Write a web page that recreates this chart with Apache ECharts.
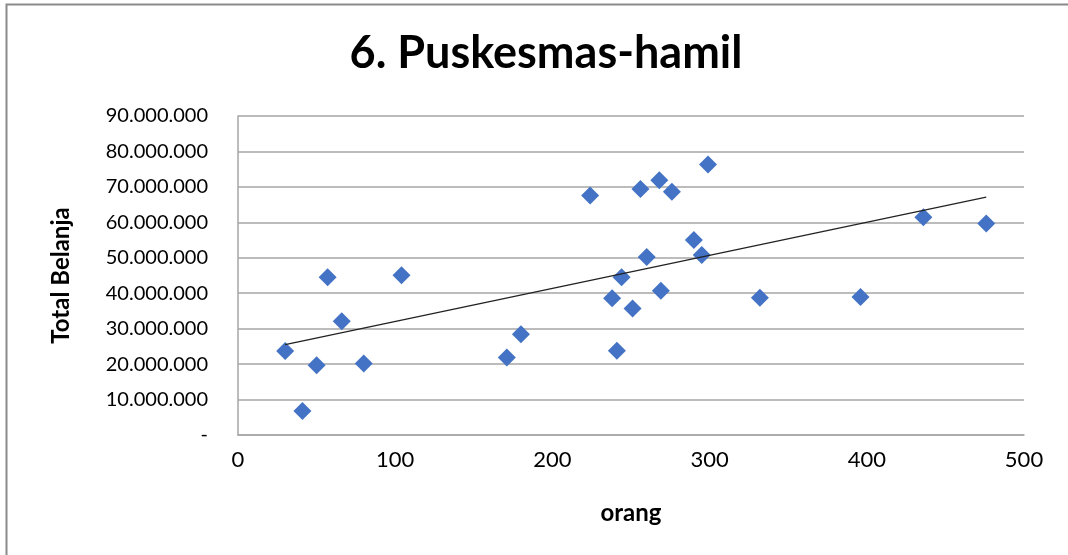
<!DOCTYPE html>
<html><head><meta charset="utf-8">
<script src="https://cdn.jsdelivr.net/npm/echarts@6/dist/echarts.min.js"></script>
<style>html,body{margin:0;padding:0;background:#fff}#c{width:1068px;height:555px}</style>
</head><body><div id="c"></div>
<script>
const titleText = '6. Puskesmas-hamil';
const xName = 'orang';
const yName = 'Total Belanja';
const orang = [30, 41, 50, 57, 66, 80, 104, 171, 180, 224, 238, 241, 244, 251, 256, 260, 268, 269, 276, 290, 295, 299, 332, 396, 436, 476];
const belanja = [23700000, 6800000, 19700000, 44500000, 32100000, 20200000, 45100000, 21900000, 28400000, 67600000, 38600000, 23800000, 44500000, 35700000, 69400000, 50200000, 71900000, 40700000, 68600000, 55000000, 50800000, 76300000, 38700000, 38900000, 61400000, 59700000];

const pts = orang.map((x, i) => [x, belanja[i]]);
// least squares trendline
const n = orang.length;
const mx = orang.reduce((a, b) => a + b, 0) / n;
const my = belanja.reduce((a, b) => a + b, 0) / n;
let sxy = 0, sxx = 0;
for (let i = 0; i < n; i++) { sxy += (orang[i] - mx) * (belanja[i] - my); sxx += (orang[i] - mx) ** 2; }
const slope = sxy / sxx, icpt = my - slope * mx;
const xmin = Math.min(...orang), xmax = Math.max(...orang);
const trend = [[xmin, icpt + slope * xmin], [xmax, icpt + slope * xmax]];

function fmt(v) {
  if (v === 0) return '-';
  return String(Math.round(v)).replace(/\B(?=(\d{3})+(?!\d))/g, '.');
}
const font = 'Lato, "Open Sans", sans-serif';
const chart = echarts.init(document.getElementById('c'), null, {renderer: 'canvas'});
chart.setOption({
  animation: false,
  title: {text: titleText, left: 541, top: 26, textAlign: 'center',
    textStyle: {fontFamily: font, fontWeight: 'bold', fontSize: 45, color: '#000'}},
  grid: {left: 238, right: 44, top: 116, bottom: 120},
  graphic: [{type: 'rect', shape: {x: 6.5, y: 4.5, width: 1100, height: 600},
    style: {fill: 'none', stroke: '#8a8a8a', lineWidth: 2}, silent: true, z: 100}],
  xAxis: {type: 'value', min: 0, max: 500, interval: 100,
    name: xName, nameLocation: 'middle', nameGap: 66,
    nameTextStyle: {fontFamily: font, fontWeight: 'bold', fontSize: 24, color: '#000'},
    axisLine: {show: true, lineStyle: {color: '#a6a6a6', width: 1.5}},
    axisTick: {show: false}, splitLine: {show: false},
    axisLabel: {fontFamily: font, fontSize: 22, color: '#000', margin: 14}},
  yAxis: {type: 'value', min: 0, max: 90000000, interval: 10000000,
    name: yName, nameLocation: 'middle', nameGap: 165, nameRotate: 90,
    nameTextStyle: {fontFamily: font, fontWeight: 'bold', fontSize: 24, color: '#000'},
    axisLine: {show: true, lineStyle: {color: '#a6a6a6', width: 1.5}},
    axisTick: {show: false},
    splitLine: {show: true, lineStyle: {color: '#a6a6a6', width: 1.5}},
    axisLabel: {fontFamily: font, fontSize: 20, color: '#000', margin: 30, formatter: fmt}},
  series: [
    {type: 'scatter', data: pts, symbol: 'diamond', symbolSize: 18,
      itemStyle: {color: '#4472C4', opacity: 1}, z: 3},
    {type: 'line', data: trend, symbol: 'none', z: 4,
      lineStyle: {color: '#222', width: 1.3}}
  ]
});
</script></body></html>
